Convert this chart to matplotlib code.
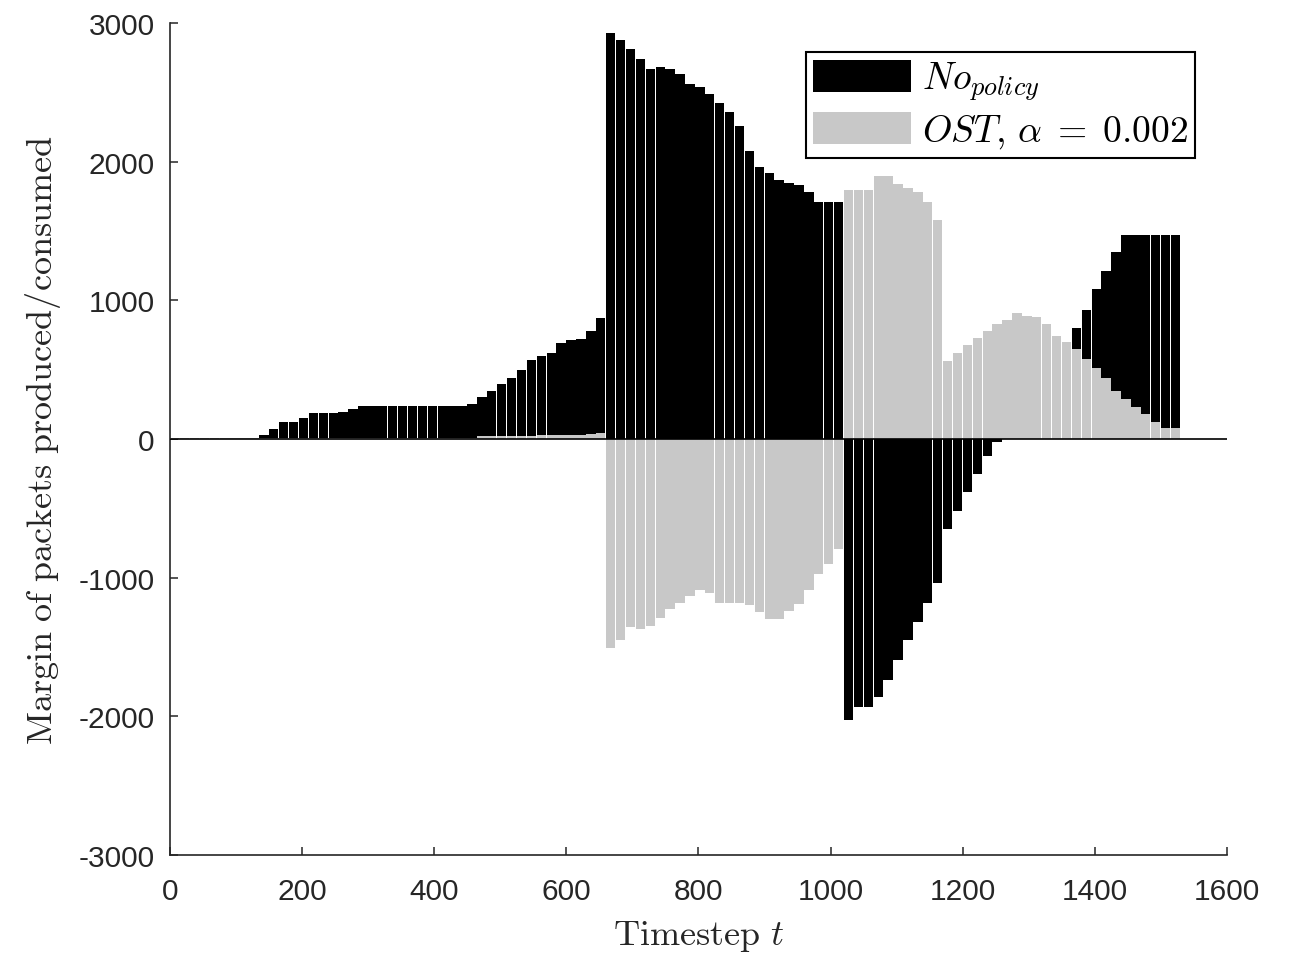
import numpy as np
import matplotlib
matplotlib.use('Agg')
import matplotlib.pyplot as plt

# valores, uma barra a cada 15 timesteps (borda esquerda)
timestep = np.arange(0, 1530, 15)

sem_politica = [
    8, 8, 5, 10, 8, 10, 8, 5, 8, 30,
    70, 125, 125, 150, 185, 185, 185, 195, 220, 238,
    238, 238, 238, 238, 238, 238, 238, 238, 238, 238,
    250, 300, 350, 400, 440, 500, 570, 598, 620, 690,
    714, 720, 780, 870, 2925, 2880, 2810, 2740, 2665, 2684,
    2670, 2636, 2560, 2540, 2490, 2420, 2360, 2260, 2080, 1960,
    1920, 1867, 1850, 1830, 1780, 1711, 1711, 1711, -2026, -1930,
    -1930, -1860, -1740, -1590, -1450, -1320, -1180, -1040, -650, -520,
    -380, -250, -120, -20, 80, 170, 260, 350, 440, 540,
    660, 800, 930, 1080, 1210, 1350, 1471, 1471, 1471, 1471,
    1471, 1471,
]

ost = [
    4, 4, 4, 4, 4, 4, 4, 4, 4, 5,
    5, 5, 5, 5, 5, 5, 5, 5, 5, 5,
    5, 5, 5, 5, 5, 5, 5, 5, 5, 5,
    5, 20, 22, 25, 25, 25, 25, 28, 28, 30,
    30, 32, 35, 40, -1509, -1449, -1353, -1370, -1350, -1290,
    -1225, -1180, -1130, -1090, -1110, -1180, -1185, -1185, -1197, -1250,
    -1300, -1300, -1240, -1190, -1090, -970, -900, -790, 1795, 1795,
    1795, 1900, 1900, 1840, 1810, 1780, 1711, 1580, 560, 620,
    680, 730, 780, 830, 858, 910, 890, 880, 830, 740,
    702, 650, 580, 510, 440, 350, 290, 230, 180, 120,
    77, 77,
]

nomes = [r'$No_{policy}$', r'$OST,\,\alpha\;=\;0.002$']

plt.rcParams['mathtext.fontset'] = 'cm'
plt.rcParams['font.family'] = 'Liberation Sans'
plt.rcParams['axes.unicode_minus'] = False

cinza_texto = '#262626'

fig = plt.figure(figsize=(12.91, 9.54), dpi=100)
ax = fig.add_axes([0.1317, 0.1027, 0.8187, 0.8721])

ax.bar(timestep, sem_politica, width=14.2, align='edge', color='black', linewidth=0, label=nomes[0], zorder=2)
ax.bar(timestep, ost, width=14.2, align='edge', color='#c8c8c8', linewidth=0, label=nomes[1], zorder=3)
ax.axhline(0, color='black', linewidth=1.2, zorder=4)

ax.set_xlim(0, 1600)
ax.set_ylim(-3000, 3000)
ax.set_xticks(np.arange(0, 1601, 200))
ax.set_yticks(np.arange(-3000, 3001, 1000))

ax.spines['top'].set_visible(False)
ax.spines['right'].set_visible(False)
for lado in ['left', 'bottom']:
    ax.spines[lado].set_color(cinza_texto)
    ax.spines[lado].set_linewidth(1.2)
ax.tick_params(direction='in', length=6, width=1.1, colors=cinza_texto, labelsize=21.5)
ax.tick_params(axis='x', pad=16)
ax.tick_params(axis='y', pad=11)

ax.set_xlabel(r'$\mathrm{Timestep}\ t$', fontsize=26, color=cinza_texto, labelpad=9)
ax.set_ylabel(r'$\mathrm{Margin\ of\ packets\ produced/consumed}$', fontsize=26, color=cinza_texto, labelpad=11)

leg = ax.legend(loc='upper right', bbox_to_anchor=(0.970, 0.965), borderaxespad=0,
                fontsize=27, frameon=True, fancybox=False, framealpha=1,
                handlelength=2.6, handleheight=0.95, labelspacing=0.25, borderpad=0.2,
                handletextpad=0.3)
leg.get_frame().set_edgecolor('black')
leg.get_frame().set_linewidth(1.5)

fig.savefig('out.png', dpi=100)
